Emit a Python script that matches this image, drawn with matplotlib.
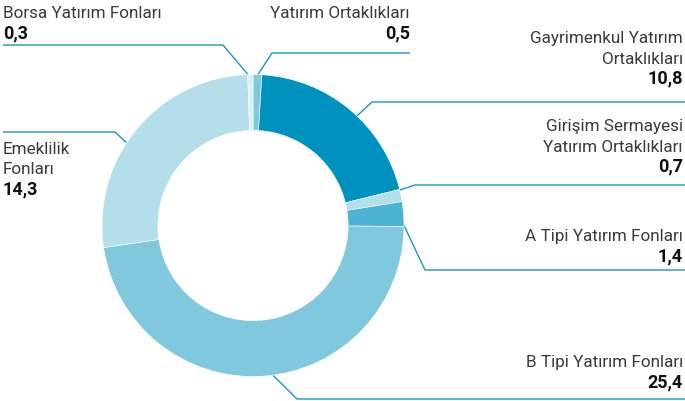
import numpy as np
import matplotlib.pyplot as plt

# data (billion TL), clockwise from top
labels = ["Yatırım Ortaklıkları",
          "Gayrimenkul Yatırım\nOrtaklıkları",
          "Girişim Sermayesi\nYatırım Ortaklıkları",
          "A Tipi Yatırım Fonları",
          "B Tipi Yatırım Fonları",
          "Emeklilik\nFonları",
          "Borsa Yatırım Fonları"]
values = [0.5, 10.8, 0.7, 1.4, 25.4, 14.3, 0.3]
colors = ["#80c8dd", "#0092be", "#b3deea", "#4db3d3", "#80c8dd", "#b3deea", "#dbeff6"]

# layout (pixels, origin top-left)
W, H = 685, 401
cx, cy, R = 253, 225.5, 151
line_color = "#1a96c4"
# connector angle on ring, elbow point, end x of horizontal, text x, align, first text line y
layout = [
    (88.1, (272, 53), 410, 410, "right", 14),
    (46.5, (372, 102), 685, 683, "right", 38),
    (13.6, (415, 185), 685, 683, "right", 126),
    (0.0, (425, 270), 685, 683, "right", 237),
    (-82.4, (297, 399), 685, 683, "right", 363),
    (146.8, (115, 132), 3, 3, "left", 149),
    (91.9, (223, 45), 3, 3, "left", 14),
]

plt.rcParams['font.family'] = ['Roboto', 'DejaVu Sans']

fig = plt.figure(figsize=(W / 100, H / 100), dpi=100)
ax = fig.add_axes([(cx - R) / W, (H - cy - R) / H, 2 * R / W, 2 * R / H])
ax.pie(values, colors=colors, startangle=90, counterclock=False, radius=1,
       wedgeprops=dict(width=0.37, edgecolor="white", linewidth=0.4))
ax.set_xlim(-1, 1)
ax.set_ylim(-1, 1)
ax.set_aspect("equal")
ax.axis("off")

ov = fig.add_axes([0, 0, 1, 1], zorder=-1)
ov.set_xlim(0, W)
ov.set_ylim(H, 0)
ov.axis("off")

step = 21
for lab, val, (ang, elbow, xend, tx, ha, ty) in zip(labels, values, layout):
    a = np.deg2rad(ang)
    px, py = cx + R * np.cos(a), cy - R * np.sin(a)
    ov.plot([px, elbow[0], xend], [py, elbow[1], elbow[1]],
            color=line_color, lw=1.0, solid_capstyle="butt")
    lines = lab.split("\n")
    for i, ln in enumerate(lines):
        ov.text(tx, ty + i * step, ln, ha=ha, va="center",
                fontsize=12.3, color="#3a3a3a")
    ov.text(tx, ty + len(lines) * step - 2, f"{val:.1f}".replace(".", ","),
            ha=ha, va="center", fontsize=13, fontweight="bold", color="#111111")

fig.savefig("out.png", dpi=100)
